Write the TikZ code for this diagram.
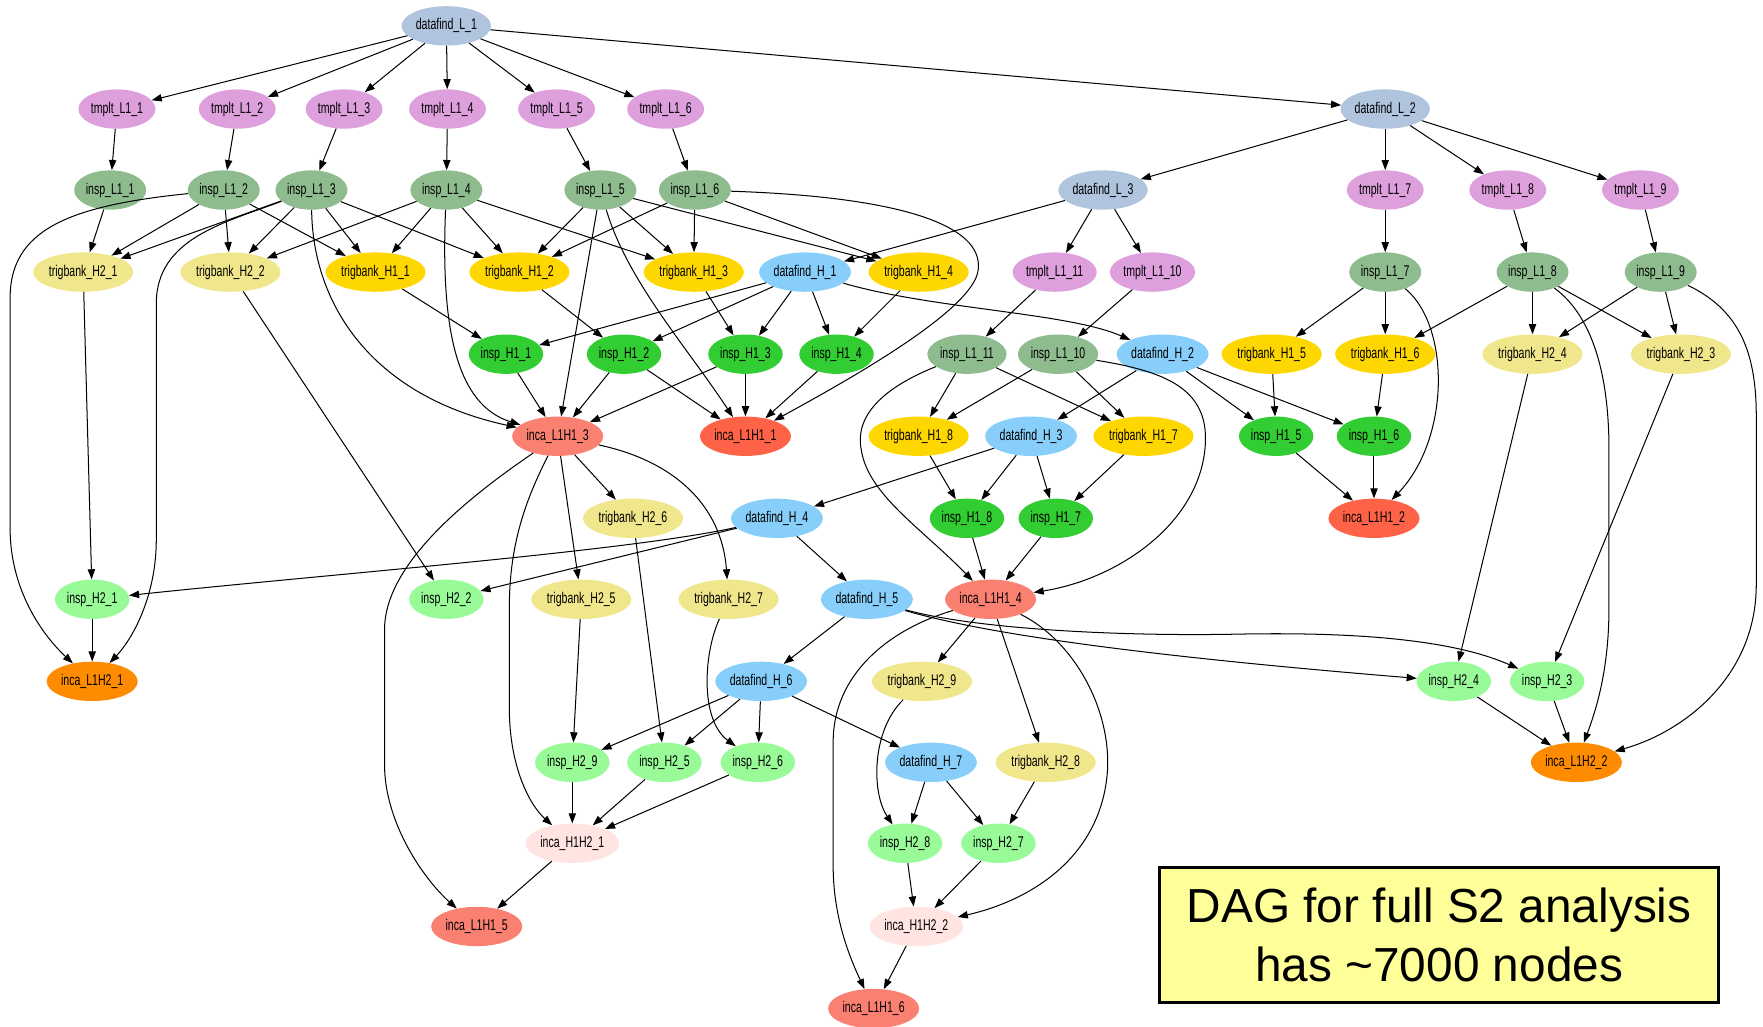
\documentclass[tikz,border=0pt]{standalone}
\usepackage{fontspec}
\setmainfont{Liberation Sans}
\newfontfamily\nodefont[FakeStretch=0.68]{Liberation Sans}
\usetikzlibrary{arrows.meta,shapes.geometric}
\definecolor{cdfL}{HTML}{B0C4DE}
\definecolor{ctmp}{HTML}{DDA0DD}
\definecolor{cinL}{HTML}{8FBC8F}
\definecolor{ctbtwo}{HTML}{F0E68C}
\definecolor{ctbone}{HTML}{FFD700}
\definecolor{cdfH}{HTML}{87CEFA}
\definecolor{cinone}{HTML}{32CD32}
\definecolor{csal}{HTML}{FA8072}
\definecolor{ctom}{HTML}{FF6347}
\definecolor{cintwo}{HTML}{98FB98}
\definecolor{corg}{HTML}{FF8C00}
\definecolor{cmis}{HTML}{FFE4E1}
\definecolor{cbox}{HTML}{FFFF99}
\tikzset{
  base/.style={ellipse, draw=none, minimum width=62pt, minimum height=35pt,
    inner xsep=1pt, inner ysep=2pt, font=\nodefont\fontsize{13.8}{15}\selectfont},
  dfl/.style={base, fill=cdfL},
  tmp/.style={base, fill=ctmp},
  inl/.style={base, fill=cinL},
  tbtwo/.style={base, fill=ctbtwo},
  tbone/.style={base, fill=ctbone},
  dfh/.style={base, fill=cdfH},
  inone/.style={base, fill=cinone},
  intwo/.style={base, fill=cintwo},
  sal/.style={base, fill=csal},
  tom/.style={base, fill=ctom},
  org/.style={base, fill=corg},
  mis/.style={base, fill=cmis},
  e/.style={-{Triangle[length=9pt,width=6.5pt]}, line width=0.9pt},
  notebox/.style={draw, line width=2.5pt, fill=cbox, minimum width=497pt,
    minimum height=120pt, align=center, inner sep=0pt,
    font=\fontsize{42.5}{52}\selectfont}
}
\begin{document}
\begin{tikzpicture}[x=1pt,y=-1pt]
\useasboundingbox (0,0) rectangle (1568,913);
% row 1-2
\node[dfl] (dL1) at (397,23) {datafind\_L\_1};
\node[tmp] (t1) at (104,97) {tmplt\_L1\_1};
\node[tmp] (t2) at (211,97) {tmplt\_L1\_2};
\node[tmp] (t3) at (306,97) {tmplt\_L1\_3};
\node[tmp] (t4) at (398,97) {tmplt\_L1\_4};
\node[tmp] (t5) at (495,97) {tmplt\_L1\_5};
\node[tmp] (t6) at (592,97) {tmplt\_L1\_6};
\node[dfl] (dL2) at (1232,97) {datafind\_L\_2};
% row 3
\node[inl] (i1) at (98,169) {insp\_L1\_1};
\node[inl] (i2) at (199,169) {insp\_L1\_2};
\node[inl] (i3) at (277,169) {insp\_L1\_3};
\node[inl] (i4) at (397,169) {insp\_L1\_4};
\node[inl] (i5) at (534,169) {insp\_L1\_5};
\node[inl] (i6) at (618,169) {insp\_L1\_6};
\node[dfl] (dL3) at (981,169) {datafind\_L\_3};
\node[tmp] (t7) at (1232,169) {tmplt\_L1\_7};
\node[tmp] (t8) at (1341,169) {tmplt\_L1\_8};
\node[tmp] (t9) at (1459,169) {tmplt\_L1\_9};
% row 4
\node[tbtwo] (tw1) at (74,242) {trigbank\_H2\_1};
\node[tbtwo] (tw2) at (205,242) {trigbank\_H2\_2};
\node[tbone] (to1) at (334,242) {trigbank\_H1\_1};
\node[tbone] (to2) at (462,242) {trigbank\_H1\_2};
\node[tbone] (to3) at (617,242) {trigbank\_H1\_3};
\node[dfh] (dh1) at (716,242) {datafind\_H\_1};
\node[tbone] (to4) at (817,242) {trigbank\_H1\_4};
\node[tmp] (t11) at (938,242) {tmplt\_L1\_11};
\node[tmp] (t10) at (1025,242) {tmplt\_L1\_10};
\node[inl] (i7) at (1232,242) {insp\_L1\_7};
\node[inl] (i8) at (1363,242) {insp\_L1\_8};
\node[inl] (i9) at (1477,242) {insp\_L1\_9};
% row 5
\node[inone] (h1) at (450,315) {insp\_H1\_1};
\node[inone] (h2) at (555,315) {insp\_H1\_2};
\node[inone] (h3) at (663,315) {insp\_H1\_3};
\node[inone] (h4) at (744,315) {insp\_H1\_4};
\node[inl] (i11) at (860,315) {insp\_L1\_11};
\node[inl] (i10) at (941,315) {insp\_L1\_10};
\node[dfh] (dh2) at (1034,315) {datafind\_H\_2};
\node[tbone] (to5) at (1131,315) {trigbank\_H1\_5};
\node[tbone] (to6) at (1232,315) {trigbank\_H1\_6};
\node[tbtwo] (tw4) at (1363,315) {trigbank\_H2\_4};
\node[tbtwo] (tw3) at (1495,315) {trigbank\_H2\_3};
% row 6
\node[sal] (c3) at (496,388) {inca\_L1H1\_3};
\node[tom] (c1) at (663,388) {inca\_L1H1\_1};
\node[tbone] (to8) at (817,388) {trigbank\_H1\_8};
\node[dfh] (dh3) at (917,388) {datafind\_H\_3};
\node[tbone] (to7) at (1017,388) {trigbank\_H1\_7};
\node[inone] (h5) at (1135,388) {insp\_H1\_5};
\node[inone] (h6) at (1222,388) {insp\_H1\_6};
% row 7
\node[tbtwo] (tw6) at (563,461) {trigbank\_H2\_6};
\node[dfh] (dh4) at (691,461) {datafind\_H\_4};
\node[inone] (h8) at (860,461) {insp\_H1\_8};
\node[inone] (h7) at (939,461) {insp\_H1\_7};
\node[tom] (c2) at (1222,461) {inca\_L1H1\_2};
% row 8
\node[intwo] (k1) at (82,533) {insp\_H2\_1};
\node[intwo] (k2) at (397,533) {insp\_H2\_2};
\node[tbtwo] (tw5) at (517,533) {trigbank\_H2\_5};
\node[tbtwo] (tw7) at (648,533) {trigbank\_H2\_7};
\node[dfh] (dh5) at (771,533) {datafind\_H\_5};
\node[sal] (c4) at (881,533) {inca\_L1H1\_4};
% row 9
\node[org] (m1) at (82,606) {inca\_L1H2\_1};
\node[dfh] (dh6) at (677,606) {datafind\_H\_6};
\node[tbtwo] (tw9) at (820,606) {trigbank\_H2\_9};
\node[intwo] (k4) at (1293,606) {insp\_H2\_4};
\node[intwo] (k3) at (1376,606) {insp\_H2\_3};
% row 10
\node[intwo] (k9) at (509,678) {insp\_H2\_9};
\node[intwo] (k5) at (591,678) {insp\_H2\_5};
\node[intwo] (k6) at (674,678) {insp\_H2\_6};
\node[dfh] (dh7) at (828,678) {datafind\_H\_7};
\node[tbtwo] (tw8) at (930,678) {trigbank\_H2\_8};
\node[org] (m2) at (1402,678) {inca\_L1H2\_2};
% row 11-13
\node[mis] (p1) at (509,750) {inca\_H1H2\_1};
\node[intwo] (k8) at (805,750) {insp\_H2\_8};
\node[intwo] (k7) at (888,750) {insp\_H2\_7};
\node[sal] (c5) at (424,824) {inca\_L1H1\_5};
\node[mis] (p2) at (815,824) {inca\_H1H2\_2};
\node[sal] (c6) at (777,897) {inca\_L1H1\_6};
% note
\node[notebox] (note) at (1280,831.5) {DAG for full S2 analysis\\has \textasciitilde 7000 nodes};

% straight connectors
\foreach \a/\b in {dL1/t1,dL1/t2,dL1/t3,dL1/t4,dL1/t5,dL1/t6,dL1/dL2,
  dL2/dL3,dL2/t7,dL2/t8,dL2/t9,dL3/dh1,dL3/t11,dL3/t10,
  t1/i1,t2/i2,t3/i3,t4/i4,t5/i5,t6/i6,t7/i7,t8/i8,t9/i9,t10/i10,t11/i11,
  i1/tw1,i2/tw1,i2/tw2,i2/to1,
  i3/tw1,i3/tw2,i3/to1,i3/to2,
  i4/tw2,i4/to1,i4/to2,i4/to3,
  i5/to2,i5/to3,i5/to4,i5/c3,
  i6/to2,i6/to3,i6/to4,
  i7/to5,i7/to6,i8/to6,i8/tw4,i8/tw3,i9/tw4,i9/tw3,
  i11/to8,i11/to7,i10/to8,i10/to7,
  to1/h1,to2/h2,to3/h3,to4/h4,
  dh1/h1,dh1/h2,dh1/h3,dh1/h4,
  dh2/dh3,dh2/h5,dh2/h6,to5/h5,to6/h6,
  tw1/k1,tw2/k2,tw4/k4,tw3/k3,
  h1/c3,h2/c3,h2/c1,h3/c3,h3/c1,h4/c1,
  h5/c2,h6/c2,
  to8/h8,dh3/h8,dh3/h7,dh3/dh4,to7/h7,
  h8/c4,h7/c4,
  c3/tw6,c3/tw5,
  dh4/k2,dh4/dh5,
  tw6/k5,tw5/k9,
  dh5/dh6,
  c4/tw9,c4/tw8,
  dh6/k9,dh6/k5,dh6/k6,dh6/dh7,
  dh7/k8,dh7/k7,tw8/k7,
  k9/p1,k5/p1,k6/p1,k8/p2,k7/p2,
  p1/c5,p2/c6,k1/m1,k4/m2,k3/m2}
  \draw[e] (\a) -- (\b);

% curved connectors
\draw[e] (i2) .. controls (60,183) and (9,205) .. (9,265) -- (9,470)
  .. controls (9,525) and (38,565) .. (m1);
\draw[e] (i3) .. controls (200,198) and (139,212) .. (139,270) -- (139,480)
  .. controls (139,530) and (118,568) .. (m1);
\draw[e] (i3) .. controls (278,270) and (330,352) .. (c3);
\draw[e] (i4) .. controls (392,290) and (405,360) .. (c3);
\draw[e] (i5) .. controls (558,250) and (612,310) .. (c1);
\draw[e] (i6) .. controls (800,175) and (875,200) .. (870,240)
  .. controls (866,275) and (760,335) .. (c1);
\draw[e] (i7) .. controls (1290,290) and (1290,390) .. (c2);
\draw[e] (i8) .. controls (1415,280) and (1431,330) .. (1431,400) -- (1431,540)
  .. controls (1431,590) and (1422,625) .. (m2);
\draw[e] (i9) .. controls (1545,275) and (1562,310) .. (1562,370) -- (1562,520)
  .. controls (1562,600) and (1500,650) .. (m2);
\draw[e] (i10) .. controls (1035,330) and (1075,345) .. (1072,395)
  .. controls (1068,465) and (995,515) .. (c4);
\draw[e] (i11) .. controls (785,345) and (760,370) .. (766,400)
  .. controls (772,440) and (820,470) .. (c4);
\draw[e] (dh1) .. controls (830,275) and (950,278) .. (dh2);
\draw[e] (c3) .. controls (420,440) and (342,500) .. (342,560) -- (342,680)
  .. controls (342,730) and (375,780) .. (c5);
\draw[e] (c3) .. controls (470,440) and (453,480) .. (453,540) -- (453,630)
  .. controls (453,680) and (470,715) .. (p1);
\draw[e] (c3) .. controls (600,410) and (642,450) .. (tw7);
\draw[e] (tw7) .. controls (626,580) and (622,640) .. (k6);
\draw[e] (dh4) .. controls (560,490) and (300,510) .. (k1);
\draw[e] (dh5) .. controls (870,560) and (1000,566) .. (1100,564)
  .. controls (1200,562) and (1290,568) .. (k3);
\draw[e] (dh5) .. controls (870,562) and (1000,582) .. (k4);
\draw[e] (tw9) .. controls (775,650) and (775,705) .. (k8);
\draw[e] (c4) .. controls (790,560) and (741,600) .. (741,660) -- (741,770)
  .. controls (741,815) and (755,850) .. (c6);
\draw[e] (c4) .. controls (955,570) and (988,630) .. (985,685)
  .. controls (980,760) and (920,800) .. (p2);
\end{tikzpicture}
\end{document}
